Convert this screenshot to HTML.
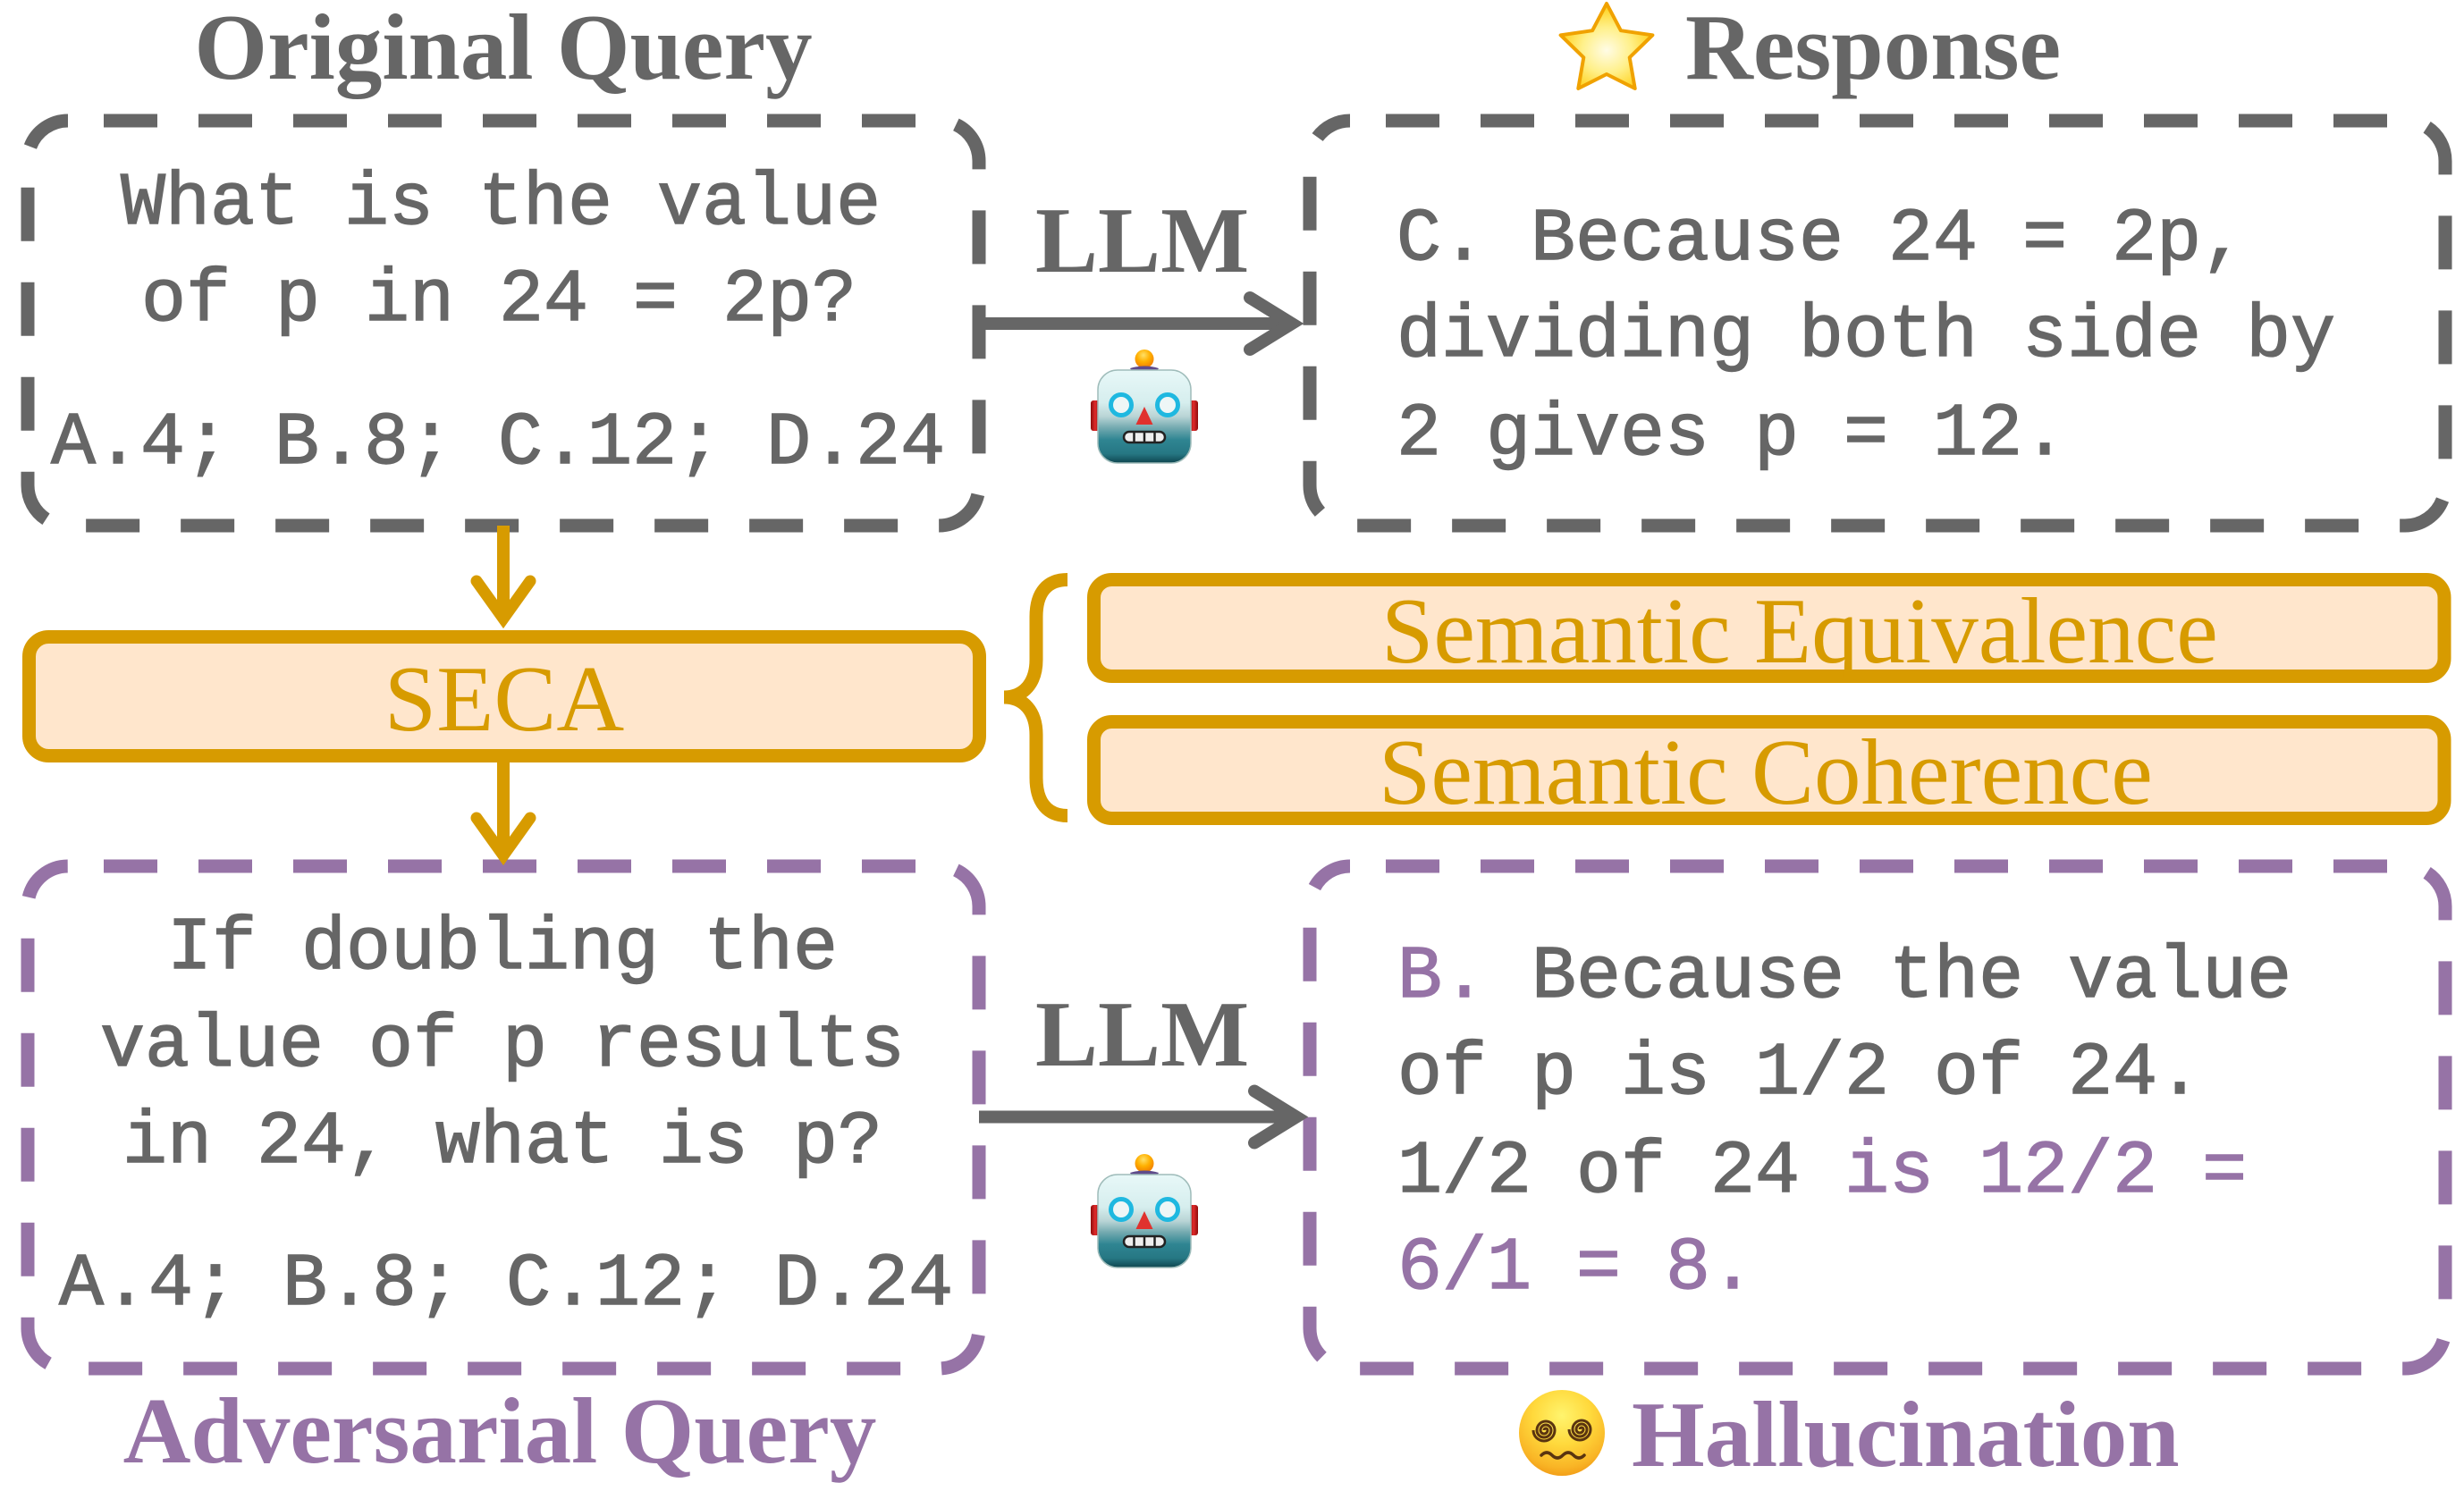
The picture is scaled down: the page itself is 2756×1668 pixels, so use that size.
<!DOCTYPE html>
<html><head><meta charset="utf-8"><style>
html,body{margin:0;padding:0;background:#fff;}
svg{display:block;}
text{white-space:pre;}
</style></head><body>
<svg width="2756" height="1668" viewBox="0 0 2756 1668" xmlns="http://www.w3.org/2000/svg">
<defs>
  <linearGradient id="rh" x1="0" y1="0" x2="0" y2="1">
    <stop offset="0" stop-color="#e8f8f8"/>
    <stop offset="0.35" stop-color="#d6eeee"/>
    <stop offset="0.5" stop-color="#b9d4d5"/>
    <stop offset="0.62" stop-color="#74aab0"/>
    <stop offset="0.75" stop-color="#2f8592"/>
    <stop offset="0.9" stop-color="#267783"/>
    <stop offset="1" stop-color="#0e4650"/>
  </linearGradient>
  <radialGradient id="ball" cx="0.45" cy="0.3" r="0.7">
    <stop offset="0" stop-color="#ffe066"/>
    <stop offset="0.5" stop-color="#ffb000"/>
    <stop offset="1" stop-color="#f07c00"/>
  </radialGradient>
  <linearGradient id="ear" x1="0" y1="0" x2="1" y2="0">
    <stop offset="0" stop-color="#8e0c0c"/>
    <stop offset="0.5" stop-color="#e02a2a"/>
    <stop offset="1" stop-color="#8e0c0c"/>
  </linearGradient>
  <radialGradient id="star" cx="0.5" cy="0.55" r="0.6">
    <stop offset="0" stop-color="#fffce6"/>
    <stop offset="0.45" stop-color="#fff08a"/>
    <stop offset="0.8" stop-color="#ffd62e"/>
    <stop offset="1" stop-color="#ffbf10"/>
  </radialGradient>
  <radialGradient id="face" cx="0.5" cy="0.3" r="0.75">
    <stop offset="0" stop-color="#fff46e"/>
    <stop offset="0.45" stop-color="#ffd93c"/>
    <stop offset="0.8" stop-color="#f9b526"/>
    <stop offset="1" stop-color="#f09512"/>
  </radialGradient>
  <g id="robot">
    <circle cx="61" cy="9.5" r="10.5" fill="url(#ball)"/>
    <path d="M45,20 Q61,15 77,20 L72,28 Q61,33 50,28 Z" fill="#5f4b8b"/>
    <rect x="1" y="56" width="10" height="34" rx="3" fill="url(#ear)"/>
    <rect x="111" y="56" width="10" height="34" rx="3" fill="url(#ear)"/>
    <rect x="9" y="22" width="104" height="104" rx="22" fill="url(#rh)" stroke="#9fbcba" stroke-width="1.5"/>
    <circle cx="35" cy="61" r="11.5" fill="#eef6f6" stroke="#1fb8e0" stroke-width="5"/>
    <circle cx="87" cy="61" r="11.5" fill="#eef6f6" stroke="#1fb8e0" stroke-width="5"/>
    <polygon points="61,63 51.5,83 70.5,83" fill="#e0322e"/>
    <rect x="38" y="91" width="46" height="12" rx="6" fill="#efefef" stroke="#222" stroke-width="2.5"/>
    <line x1="49.5" y1="91" x2="49.5" y2="103" stroke="#222" stroke-width="2.5"/>
    <line x1="61" y1="91" x2="61" y2="103" stroke="#222" stroke-width="2.5"/>
    <line x1="72.5" y1="91" x2="72.5" y2="103" stroke="#222" stroke-width="2.5"/>
  </g>
</defs>

<!-- Dashed boxes -->
<rect x="31" y="135" width="1064" height="453" rx="45" fill="none" stroke="#666666" stroke-width="15" stroke-dasharray="60 46" stroke-dashoffset="66"/>
<rect x="1465" y="135" width="1270" height="453" rx="45" fill="none" stroke="#666666" stroke-width="15" stroke-dasharray="60 46" stroke-dashoffset="66"/>
<rect x="31" y="969" width="1064" height="562" rx="45" fill="none" stroke="#9673A6" stroke-width="15" stroke-dasharray="60 46" stroke-dashoffset="66"/>
<rect x="1465" y="969" width="1270" height="562" rx="45" fill="none" stroke="#9673A6" stroke-width="15" stroke-dasharray="60 46" stroke-dashoffset="66"/>

<!-- Gold boxes -->
<rect x="32.5" y="712.5" width="1063" height="133" rx="22" fill="#FFE6CC" stroke="#D79B00" stroke-width="15"/>
<rect x="1223.5" y="648.5" width="1510.5" height="108" rx="20" fill="#FFE6CC" stroke="#D79B00" stroke-width="15"/>
<rect x="1223.5" y="807.5" width="1510.5" height="108" rx="20" fill="#FFE6CC" stroke="#D79B00" stroke-width="15"/>

<!-- Brace -->
<path d="M1194,648.5 C1172,648.5 1159,662 1159,690 L1159,738 C1159,764 1145,780 1123,780 C1145,780 1159,796 1159,822 L1159,870 C1159,898 1172,912.5 1194,912.5" fill="none" stroke="#D79B00" stroke-width="15"/>

<!-- Gold arrows -->
<line x1="563" y1="588" x2="563" y2="692" stroke="#D79B00" stroke-width="14"/>
<polyline points="533,650 563,692 593,650" fill="none" stroke="#D79B00" stroke-width="13" stroke-linecap="round"/>
<line x1="563" y1="853" x2="563" y2="957" stroke="#D79B00" stroke-width="14"/>
<polyline points="533,915 563,957 593,915" fill="none" stroke="#D79B00" stroke-width="13" stroke-linecap="round"/>

<!-- Gray arrows -->
<line x1="1095" y1="362" x2="1445" y2="362" stroke="#666666" stroke-width="14"/>
<polyline points="1398,333 1445,362 1398,391" fill="none" stroke="#666666" stroke-width="14" stroke-linecap="round"/>
<line x1="1095" y1="1249.5" x2="1450" y2="1249.5" stroke="#666666" stroke-width="14"/>
<polyline points="1403,1220.5 1450,1249.5 1403,1278.5" fill="none" stroke="#666666" stroke-width="14" stroke-linecap="round"/>

<!-- Robots -->
<use href="#robot" transform="translate(1219,392)"/>
<use href="#robot" transform="translate(1219,1292)"/>

<!-- Star -->
<polygon points="1797,4 1812.9,34.2 1848.4,39.3 1822.7,64.3 1828.7,99 1797,83 1765.3,99 1771.3,64.3 1745.6,39.3 1781.1,34.2" fill="url(#star)" stroke="#f0a200" stroke-width="4" stroke-linejoin="round"/>

<!-- Dizzy face -->
<circle cx="1747" cy="1603" r="48" fill="url(#face)"/>
<path d="M1727,1600 a2,2 0 0 1 4,0 a4,4 0 0 1 -8,0 a6,6 0 0 1 12,0 a8,8 0 0 1 -16,0 a10,10 0 0 1 20,0 a12,12 0 0 1 -24,0" fill="none" stroke="#5a3410" stroke-width="3"/>
<path d="M1767,1599 a2,2 0 0 1 4,0 a4,4 0 0 1 -8,0 a6,6 0 0 1 12,0 a8,8 0 0 1 -16,0 a10,10 0 0 1 20,0 a12,12 0 0 1 -24,0" fill="none" stroke="#5a3410" stroke-width="3"/>
<path d="M1724,1628 q6,-6 12,0 t12,0 t12,0 t12,0" fill="none" stroke="#5a3410" stroke-width="3.5" stroke-linecap="round"/>

<!-- Titles -->
<g font-family="'Liberation Serif', serif" font-weight="bold" font-size="105">
  <text x="563" y="88" text-anchor="middle" fill="#666666">Original Query</text>
  <text x="1885" y="88" fill="#666666">Response</text>
  <text x="1158" y="304" fill="#666666">LLM</text>
  <text x="1158" y="1192" fill="#666666">LLM</text>
  <text x="559" y="1636" text-anchor="middle" fill="#9673A6">Adversarial Query</text>
  <text x="1825" y="1640" fill="#9673A6">Hallucination</text>
</g>
<g font-family="'Liberation Serif', serif" font-size="105" fill="#D79B00">
  <text x="564" y="817" text-anchor="middle">SECA</text>
  <text x="1545" y="741">Semantic Equivalence</text>
  <text x="1542" y="899">Semantic Coherence</text>
</g>

<!-- Monospace texts -->
<g font-family="'Liberation Mono', monospace" font-size="83.33" fill="#666666" stroke="#666666" stroke-width="1.4">
  <text x="135" y="250">What is the value</text>
  <text x="158" y="358">of p in 24 = 2p?</text>
  <text x="57" y="518">A.4; B.8; C.12; D.24</text>

  <text x="1562" y="290">C. Because 24 = 2p,</text>
  <text x="1562" y="398">dividing both side by</text>
  <text x="1562" y="508">2 gives p = 12.</text>

  <text x="562" y="1083" text-anchor="middle">If doubling the</text>
  <text x="562" y="1192" text-anchor="middle">value of p results</text>
  <text x="562" y="1300" text-anchor="middle">in 24, what is p?</text>
  <text x="66" y="1459">A.4; B.8; C.12; D.24</text>

  <text x="1563" y="1115"><tspan fill="#9673A6" stroke="#9673A6">B.</tspan> Because the value</text>
  <text x="1563" y="1223">of p is 1/2 of 24.</text>
  <text x="1563" y="1333">1/2 of 24 <tspan fill="#9673A6" stroke="#9673A6">is 12/2 =</tspan></text>
  <text x="1563" y="1441" fill="#9673A6" stroke="#9673A6">6/1 = 8.</text>
</g>
</svg>
</body></html>
